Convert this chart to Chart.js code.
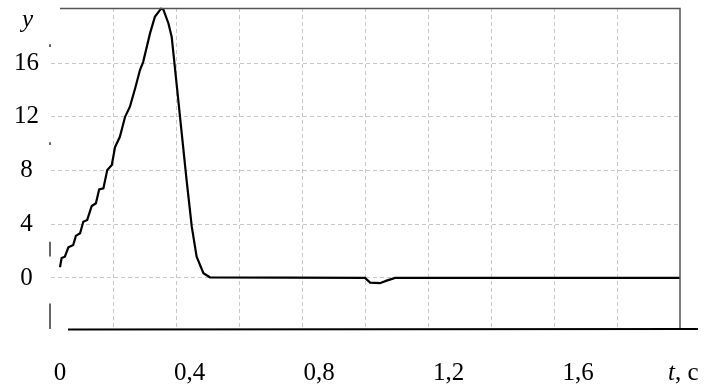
<!DOCTYPE html>
<html>
<head>
<meta charset="utf-8">
<script src="https://cdn.jsdelivr.net/npm/chart.js@4/dist/chart.umd.min.js"></script>
<style>
  html, body { margin: 0; padding: 0; background: #fff; }
  #chart { display: block; }
</style>
</head>
<body>
<canvas id="chart" width="711" height="387"></canvas>
<script>
// time, s
const timeSec = [
  0.000, 0.005, 0.015, 0.026, 0.041, 0.049, 0.062, 0.072, 0.084, 0.098,
  0.111, 0.121, 0.134, 0.146, 0.160, 0.170, 0.185, 0.201, 0.216, 0.232,
  0.247, 0.257, 0.278, 0.293, 0.312, 0.319, 0.335, 0.345, 0.360, 0.376,
  0.391, 0.407, 0.422, 0.443, 0.463, 0.942, 0.958, 0.988, 1.009, 1.035,
  1.915
];
// response y
const response = [
  0.80, 1.49, 1.58, 2.28, 2.46, 3.13, 3.33, 4.19, 4.32, 5.36,
  5.56, 6.60, 6.67, 8.04, 8.41, 9.75, 10.51, 12.00, 12.75, 14.11,
  15.48, 16.09, 18.21, 19.44, 20.05, 20.00, 18.95, 17.95, 14.49, 10.77,
  7.29, 3.82, 1.58, 0.35, 0.05, 0.00, -0.35, -0.39, -0.20, 0.00,
  0.00
];

const xTickValues = [0, 0.4, 0.8, 1.2, 1.6];
const xTickLabels = ['0', '0,4', '0,8', '1,2', '1,6'];
const yTickValues = [0, 4, 8, 12, 16];
const gridSteps = [0.2, 0.4, 0.6, 0.8, 1.0, 1.2, 1.4, 1.6, 1.8];

const FONT = "'Liberation Serif', 'Times New Roman', serif";
const GRID = '#c8c8c8';

// frame lines and the axis captions "y" and "t, c"
const framePlugin = {
  id: 'frame',
  afterDraw(chart) {
    const { ctx, chartArea: a, scales } = chart;
    const ys = scales.y;
    ctx.save();
    ctx.lineCap = 'butt';

    ctx.strokeStyle = '#555';
    ctx.lineWidth = 1.5;
    ctx.beginPath();
    ctx.moveTo(a.left + 9, a.top + 0.5);
    ctx.lineTo(a.right, a.top + 0.5);
    ctx.lineTo(a.right, a.bottom);
    ctx.stroke();

    ctx.strokeStyle = '#000';
    ctx.lineWidth = 2;
    ctx.beginPath();
    ctx.moveTo(a.left + 17, a.bottom + 0.5);
    ctx.lineTo(a.right + 18, a.bottom);
    ctx.stroke();

    // broken left axis line
    ctx.strokeStyle = '#333';
    ctx.lineWidth = 1.5;
    [[17.4, 17.2], [10.1, 9.9], [2.7, 1.6], [-1.9, -3.8]].forEach(([v1, v2]) => {
      ctx.beginPath();
      ctx.moveTo(a.left - 1, ys.getPixelForValue(v1));
      ctx.lineTo(a.left - 1, ys.getPixelForValue(v2));
      ctx.stroke();
    });

    ctx.fillStyle = '#000';
    ctx.textBaseline = 'alphabetic';
    ctx.textAlign = 'left';
    ctx.font = 'italic 25px ' + FONT;
    ctx.fillText('y', 22, 27);

    ctx.textBaseline = 'middle';
    ctx.fillText('t', 668, 373);
    const tw = ctx.measureText('t').width;
    ctx.font = '25px ' + FONT;
    ctx.fillText(', c', 668 + tw, 373);
    ctx.restore();
  }
};

new Chart(document.getElementById('chart'), {
  type: 'line',
  data: {
    datasets: [{
      data: timeSec.map((t, i) => ({ x: t, y: response[i] })),
      borderColor: '#000',
      borderWidth: 2.2,
      pointRadius: 0,
      tension: 0,
      fill: false,
      clip: false
    }]
  },
  options: {
    responsive: false,
    animation: false,
    events: [],
    layout: { padding: { left: 0, right: 31, top: 8, bottom: 0 } },
    plugins: {
      legend: { display: false },
      tooltip: { enabled: false }
    },
    scales: {
      x: {
        type: 'linear',
        position: 'bottom',
        min: -0.0278,
        max: 1.915,
        afterBuildTicks: (scale) => { scale.ticks = xTickValues.map(v => ({ value: v })); },
        afterFit: (scale) => { scale.height = 58; scale.paddingLeft = 0; scale.paddingRight = 0; },
        grid: { display: false, drawTicks: false },
        border: { display: false },
        ticks: {
          padding: 29,
          color: '#000',
          font: { family: FONT, size: 25 },
          maxRotation: 0,
          autoSkip: false,
          callback: (value) => {
            const i = xTickValues.indexOf(value);
            return i >= 0 ? xTickLabels[i] : '';
          }
        }
      },
      xg: {
        type: 'linear',
        position: 'bottom',
        min: 0,
        max: 2.0,
        afterBuildTicks: (scale) => { scale.ticks = gridSteps.map(v => ({ value: v })); },
        afterFit: (scale) => { scale.height = 0; scale.paddingLeft = 0; scale.paddingRight = 0; },
        grid: { color: GRID, lineWidth: 1, drawTicks: false },
        border: { display: false, dash: [4, 3] },
        ticks: { display: false }
      },
      y: {
        min: -3.8,
        max: 20.1,
        afterBuildTicks: (scale) => { scale.ticks = yTickValues.map(v => ({ value: v })); },
        afterFit: (scale) => { scale.width = 51; scale.paddingTop = 0; scale.paddingBottom = 0; },
        grid: { color: GRID, lineWidth: 1, drawTicks: false },
        border: { display: false, dash: [4, 3] },
        ticks: {
          padding: 12,
          crossAlign: 'center',
          color: '#000',
          font: { family: FONT, size: 25 }
        }
      }
    }
  },
  plugins: [framePlugin]
});
</script>
</body>
</html>
